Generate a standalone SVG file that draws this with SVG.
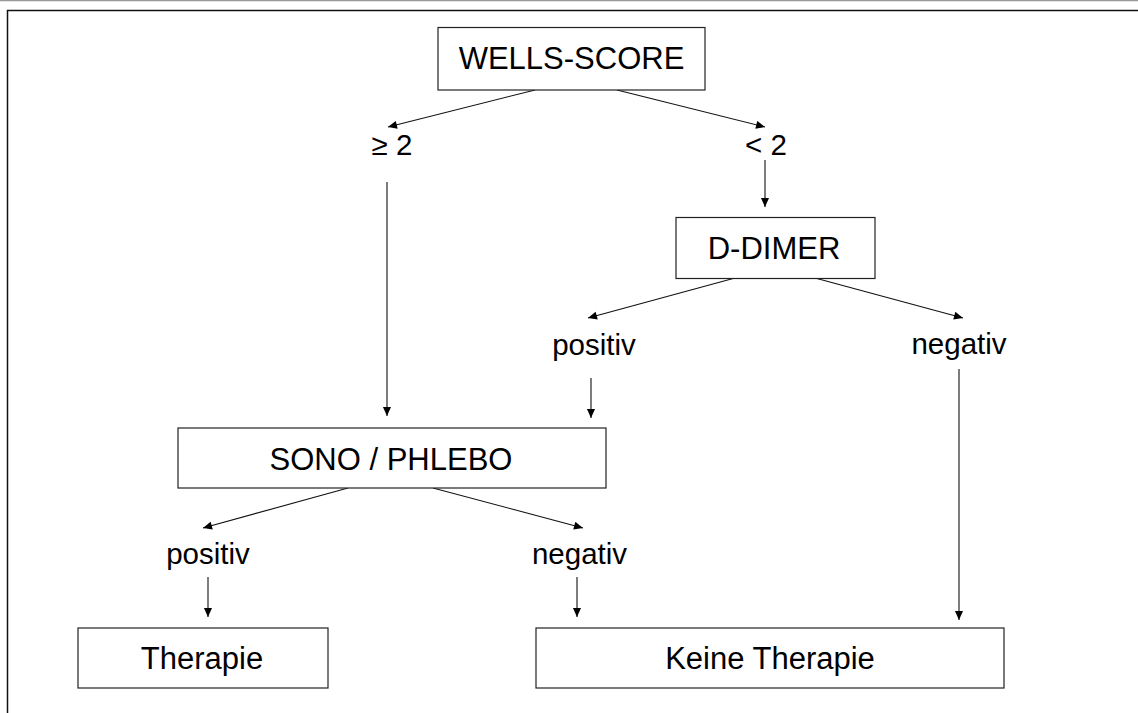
<svg xmlns="http://www.w3.org/2000/svg" width="1138" height="713" viewBox="0 0 1138 713">
<style>
.box{fill:#fff;stroke:#222;stroke-width:1.2}
.t{font-family:"Liberation Sans",Arial,sans-serif;font-size:31px;fill:#000;text-anchor:middle}
.l{font-family:"Liberation Sans",Arial,sans-serif;font-size:29.5px;fill:#000;text-anchor:middle}
.c{stroke:#111;stroke-width:1.1;fill:none;marker-end:url(#ah)}
</style>
<defs>
<marker id="ah" viewBox="0 0 10 10" refX="10" refY="4.5" markerWidth="10" markerHeight="9" markerUnits="userSpaceOnUse" orient="auto">
<path d="M0,0 L10,4.5 L0,9 z" fill="#000"/>
</marker>
</defs>
<rect x="0" y="0" width="1138" height="713" fill="#fff"/>
<g id="frame">
<line x1="0" y1="0.5" x2="1138" y2="0.5" stroke="#999" stroke-width="1.5"/>
<polyline points="7.5,713 7.5,10.5 1138,10.5" fill="none" stroke="#111" stroke-width="1.5"/>
</g>
<g id="connectors">
<line class="c" x1="535" y1="90" x2="388" y2="127"/>
<line class="c" x1="617" y1="90" x2="765" y2="127"/>
<line class="c" x1="765" y1="160" x2="765" y2="207"/>
<line class="c" x1="387" y1="182" x2="387" y2="416"/>
<line class="c" x1="735" y1="278" x2="588" y2="318"/>
<line class="c" x1="815" y1="278" x2="963" y2="318"/>
<line class="c" x1="591" y1="378" x2="591" y2="418"/>
<line class="c" x1="959" y1="369" x2="959" y2="620"/>
<line class="c" x1="348" y1="488" x2="203" y2="528"/>
<line class="c" x1="433" y1="488" x2="583" y2="528"/>
<line class="c" x1="208" y1="577" x2="208" y2="617"/>
<line class="c" x1="577" y1="577" x2="577" y2="617"/>
</g>
<g id="wells">
<rect class="box" x="438" y="27.5" width="267" height="62.5"/>
<text class="t" x="571.5" y="69">WELLS-SCORE</text>
</g>
<g id="ge2"><text class="l" x="392" y="155">≥ 2</text></g>
<g id="lt2"><text class="l" x="766" y="155">&lt; 2</text></g>
<g id="ddimer">
<rect class="box" x="676" y="217.5" width="199" height="61"/>
<text class="t" x="774" y="259">D-DIMER</text>
</g>
<g id="dd-pos"><text class="l" x="594" y="355">positiv</text></g>
<g id="dd-neg"><text class="l" x="959" y="354">negativ</text></g>
<g id="sono">
<rect class="box" x="178" y="428" width="428" height="60"/>
<text class="t" x="391" y="470">SONO / PHLEBO</text>
</g>
<g id="sono-pos"><text class="l" x="208" y="564">positiv</text></g>
<g id="sono-neg"><text class="l" x="579.5" y="564">negativ</text></g>
<g id="therapie">
<rect class="box" x="78" y="628" width="250" height="60"/>
<text class="t" x="202" y="669">Therapie</text>
</g>
<g id="keine">
<rect class="box" x="536" y="628" width="468" height="60"/>
<text class="t" x="770" y="669">Keine Therapie</text>
</g>
</svg>
